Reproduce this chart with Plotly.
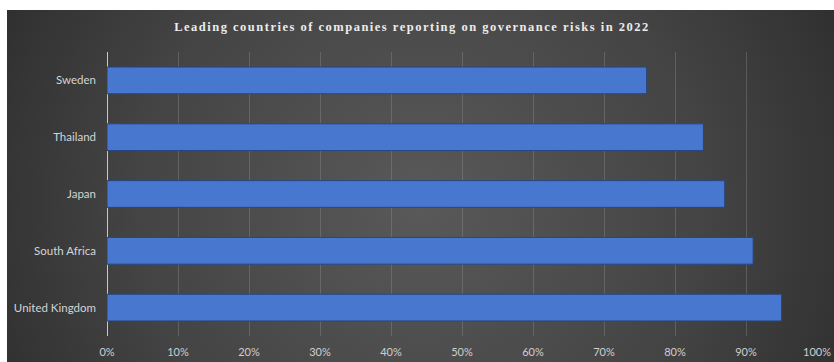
import base64
import plotly.graph_objects as go

countries = ["United Kingdom", "South Africa", "Japan", "Thailand", "Sweden"]
shares = [0.95, 0.91, 0.87, 0.84, 0.76]
tick_vals = [0, 0.1, 0.2, 0.3, 0.4, 0.5, 0.6, 0.7, 0.8, 0.9, 1.0]
tick_text = ["0%", "10%", "20%", "30%", "40%", "50%", "60%", "70%", "80%", "90%", "100%"]
title_text = "Leading countries of companies reporting on governance risks in 2022"

W, H = 834, 362
L, R, T, B = 107, 17, 52, 26
pw, ph = W - L - R, H - T - B

svg = """<svg xmlns='http://www.w3.org/2000/svg' width='827' height='352' preserveAspectRatio='none'>
<defs><radialGradient id='g' cx='0.5' cy='0.55' r='0.62' gradientUnits='objectBoundingBox'
 gradientTransform='translate(0.5,0.55) scale(1,2.3) translate(-0.5,-0.55)'>
<stop offset='0' stop-color='#595959'/><stop offset='0.55' stop-color='#444444'/>
<stop offset='1' stop-color='#2a2a2a'/></radialGradient></defs>
<rect width='827' height='352' fill='url(#g)'/></svg>"""
bg_src = "data:image/svg+xml;base64," + base64.b64encode(svg.encode()).decode()

fig = go.Figure()
fig.add_trace(go.Bar(
    x=shares, y=countries, orientation="h",
    marker=dict(color="#4877d0", line=dict(color="#284680", width=1)),
    width=0.47, hoverinfo="x+y",
))

fig.update_layout(
    width=W, height=H,
    margin=dict(l=L, r=R, t=T, b=B, autoexpand=False),
    paper_bgcolor="white",
    plot_bgcolor="rgba(0,0,0,0)",
    showlegend=False,
    title=dict(
        text="<b><span style='letter-spacing:1.5px'>" + title_text + "</span></b>",
        x=412 / W, xanchor="center", xref="container",
        y=1 - 27 / H, yanchor="middle", yref="container",
        font=dict(family="Liberation Serif", size=12.5, color="#ececec"),
    ),
    images=[dict(
        source=bg_src, xref="paper", yref="paper",
        x=(7 - L) / pw, y=(H - B - 10) / ph,
        sizex=(W - 7) / pw, sizey=(H - 10) / ph,
        xanchor="left", yanchor="top", sizing="stretch", layer="below",
    )],
    xaxis=dict(
        range=[0, 1.0], tickvals=tick_vals, ticktext=tick_text,
        showgrid=True, gridcolor="rgba(150,150,150,0.35)", gridwidth=1,
        zeroline=True, zerolinecolor="#c8c8c8", zerolinewidth=1,
        showline=False, ticks="", ticklabelstandoff=8, automargin=False,
        tickfont=dict(family="Lato", size=11, color="#cfcfcf"),
        fixedrange=True,
    ),
    yaxis=dict(
        categoryorder="array", categoryarray=countries,
        showgrid=False, zeroline=False, showline=False, ticks="",
        ticklabelstandoff=10, automargin=False,
        tickfont=dict(family="Lato", size=11.5, color="#d4d4d4"),
        fixedrange=True,
    ),
)

fig.write_html("out.html")
